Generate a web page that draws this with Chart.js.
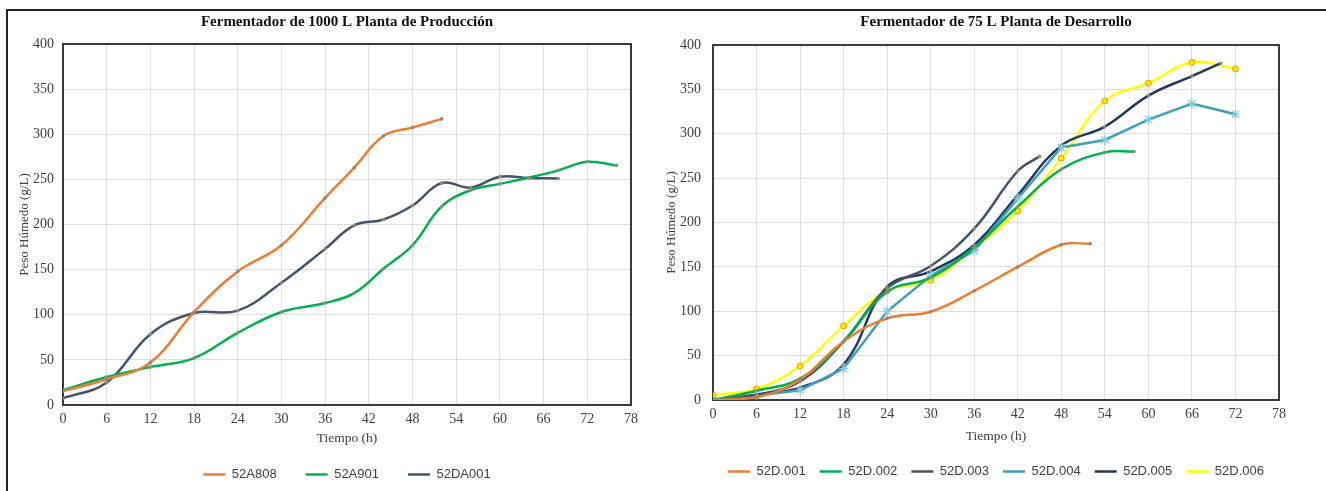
<!DOCTYPE html>
<html>
<head>
<meta charset="utf-8">
<script src="https://cdn.jsdelivr.net/npm/chart.js@4.4.1/dist/chart.umd.min.js"></script>
<style>
  html, body { margin: 0; padding: 0; background: #fff; width: 1326px; height: 491px; overflow: hidden; }
  #frame { position: absolute; left: 6px; top: 9px; width: 1340px; height: 500px; border-top: 2px solid #222; border-left: 2px solid #222; }
  #c1wrap { position: absolute; left: 0; top: 0; width: 660px; height: 491px; }
  #c2wrap { position: absolute; left: 660px; top: 0; width: 666px; height: 491px; }
</style>
</head>
<body>
<div id="frame"></div>
<div id="c1wrap"><canvas id="c1"></canvas></div>
<div id="c2wrap"><canvas id="c2"></canvas></div>
<script>
// ---------- Data: Fermentador de 1000 L ----------
const title1 = "Fermentador de 1000 L Planta de Producción";
const t_52A808  = [0, 6, 12, 18, 24, 30, 36, 40, 44, 48, 52];
const v_52A808  = [15.5, 28.5, 47, 103, 148, 177, 229.5, 263, 298, 307.5, 317];
const t_52A901  = [0, 6, 12, 18, 24, 30, 36, 40, 44, 48, 52, 56, 60, 64, 68, 72, 76];
const v_52A901  = [16.5, 31, 42, 52, 80, 103, 113, 124, 151, 177, 220, 238, 245, 252, 260, 269.5, 265.5];
const t_52DA001 = [0, 6, 12, 18, 24, 30, 36, 40, 44, 48, 52, 56, 60, 64, 68];
const v_52DA001 = [7.5, 25, 78.5, 102, 104.5, 135.5, 173, 199, 205.5, 221, 246, 241, 253, 251.5, 251];

// ---------- Data: Fermentador de 75 L ----------
const title2 = "Fermentador de 75 L Planta de Desarrollo";
const t_52D001 = [0, 6, 12, 18, 24, 30, 36, 42, 48, 52];
const v_52D001 = [0, 3, 23, 66, 92, 99.5, 123, 150, 175, 176];
const t_52D002 = [0, 6, 12, 18, 24, 30, 36, 42, 48, 54, 58];
const v_52D002 = [0, 10.5, 24, 66, 122, 138, 172, 218, 260, 279, 280];
const t_52D003 = [0, 6, 12, 18, 24, 30, 36, 42, 45];
const v_52D003 = [0, 6, 21, 66, 126, 151, 193, 258, 274.5];
const t_52D004 = [0, 6, 12, 18, 24, 30, 36, 42, 48, 54, 60, 66, 72];
const v_52D004 = [0, 5, 11, 35.5, 100, 140, 168, 227, 284.5, 293, 316, 334, 322];
const t_52D005 = [0, 6, 12, 18, 24, 30, 36, 42, 48, 54, 60, 66, 70];
const v_52D005 = [0, 6, 14, 40, 127.7, 145, 174.6, 231, 286.6, 308, 343, 365, 379.5];
const t_52D006 = [0, 6, 12, 18, 24, 30, 36, 42, 48, 54, 60, 66, 72];
const v_52D006 = [5.6, 12.4, 38.5, 83.5, 123, 135, 171, 213, 272.5, 337, 357, 380.5, 373];

// ---------- Axis ticks ----------
const xTicks = [0, 6, 12, 18, 24, 30, 36, 42, 48, 54, 60, 66, 72, 78];
const yTicks = [0, 50, 100, 150, 200, 250, 300, 350, 400];
const xTitle = "Tiempo (h)";
const yTitle = "Peso Húmedo (g/L)";

const pts = (ts, vs) => ts.map((t, i) => ({ x: t, y: vs[i] }));

const plotFrame = {
  id: 'plotFrame',
  beforeDatasetsDraw(c) {
    const a = c.chartArea, ctx = c.ctx;
    ctx.save();
    ctx.strokeStyle = '#3a3a3a';
    ctx.lineWidth = 2;
    ctx.strokeRect(a.left, a.top, a.right - a.left, a.bottom - a.top);
    ctx.restore();
  }
};

function series(label, ts, vs, color, extra) {
  return Object.assign({
    label: label,
    data: pts(ts, vs),
    borderColor: color,
    backgroundColor: color,
    borderWidth: 2.5,
    tension: 0.4,
    pointRadius: 1.8,
    pointStyle: 'circle',
    pointBackgroundColor: '#8c8c7c',
    pointBorderWidth: 0,
    pointHoverRadius: 1.8
  }, extra || {});
}

function makeOptions(cfg) {
  return {
    responsive: false,
    animation: false,
    layout: { padding: { left: 0, right: cfg.padRight, top: 0, bottom: cfg.padBottom } },
    plugins: {
      title: {
        display: true, text: cfg.title, fullSize: false,
        font: { family: 'Liberation Serif', size: 15, weight: 'bold' }, color: '#111',
        padding: { top: 13, bottom: cfg.titleBottom }
      },
      legend: {
        position: 'bottom', fullSize: false,
        labels: {
          usePointStyle: true, pointStyle: 'line', pointStyleWidth: 22,
          font: { family: 'Liberation Sans', size: 13 }, color: '#404040',
          padding: cfg.legendPad, boxHeight: 13,
          generateLabels: chart => chart.data.datasets.map((ds, i) => ({
            text: ds.label, datasetIndex: i, hidden: false,
            strokeStyle: ds.borderColor, fillStyle: ds.borderColor,
            lineWidth: 2.5, pointStyle: 'line', fontColor: '#404040'
          }))
        }
      },
      tooltip: { enabled: false }
    },
    scales: {
      x: {
        type: 'linear', min: 0, max: 78,
        afterBuildTicks: s => { s.ticks = xTicks.map(v => ({ value: v })); },
        afterFit: s => { s.height = cfg.xHeight; },
        grid: { color: '#dedede', lineWidth: 1, drawTicks: false },
        border: { display: false },
        ticks: { font: { family: 'Liberation Serif', size: 14 }, color: '#404040', padding: 6, maxRotation: 0 },
        title: { display: true, text: xTitle, font: { family: 'Liberation Serif', size: 13.5 }, color: '#404040', padding: { top: 0, bottom: cfg.xTitleBottom } }
      },
      y: {
        type: 'linear', min: 0, max: 400,
        afterBuildTicks: s => { s.ticks = yTicks.map(v => ({ value: v })); },
        afterFit: s => { s.width = cfg.yWidth; },
        grid: { color: '#dedede', lineWidth: 1, drawTicks: false },
        border: { display: false },
        ticks: { font: { family: 'Liberation Serif', size: 14 }, color: '#404040', padding: cfg.yTickPad },
        title: { display: true, text: yTitle, font: { family: 'Liberation Serif', size: 13 }, color: '#404040', padding: { top: cfg.yTitleTop, bottom: 0 } }
      }
    }
  };
}

const c1 = document.getElementById('c1');
c1.width = 660; c1.height = 491;
new Chart(c1, {
  type: 'line',
  data: {
    datasets: [
      series('52A808', t_52A808, v_52A808, '#ED7D31'),
      series('52A901', t_52A901, v_52A901, '#00B050'),
      series('52DA001', t_52DA001, v_52DA001, '#44546A')
    ]
  },
  options: makeOptions({ title: title1, padRight: 29, padBottom: 0, titleBottom: 13, legendPad: 29, xHeight: 34, xTitleBottom: -8, yWidth: 63, yTitleTop: 17, yTickPad: 9 }),
  plugins: [plotFrame]
});

const c2 = document.getElementById('c2');
c2.width = 666; c2.height = 491;
new Chart(c2, {
  type: 'line',
  data: {
    datasets: [
      series('52D.001', t_52D001, v_52D001, '#ED7D31'),
      series('52D.002', t_52D002, v_52D002, '#00B050'),
      series('52D.003', t_52D003, v_52D003, '#44546A'),
      series('52D.004', t_52D004, v_52D004, '#3FA0B8', { tension: 0, pointStyle: 'star', pointRadius: 5, pointBorderWidth: 1.2, pointBorderColor: '#7fcbe0', pointBackgroundColor: '#7fcbe0', pointHoverRadius: 5 }),
      series('52D.005', t_52D005, v_52D005, '#1F3864'),
      series('52D.006', t_52D006, v_52D006, '#FFFF00', { pointRadius: 3, pointBackgroundColor: '#FFE600', pointBorderColor: '#E8A000', pointBorderWidth: 1, pointHoverRadius: 3 })
    ]
  },
  options: makeOptions({ title: title2, padRight: 47, padBottom: 3, titleBottom: 14, legendPad: 14, xHeight: 51, xTitleBottom: 6, yWidth: 53, yTitleTop: 4, yTickPad: 12 }),
  plugins: [plotFrame]
});
</script>
</body>
</html>
